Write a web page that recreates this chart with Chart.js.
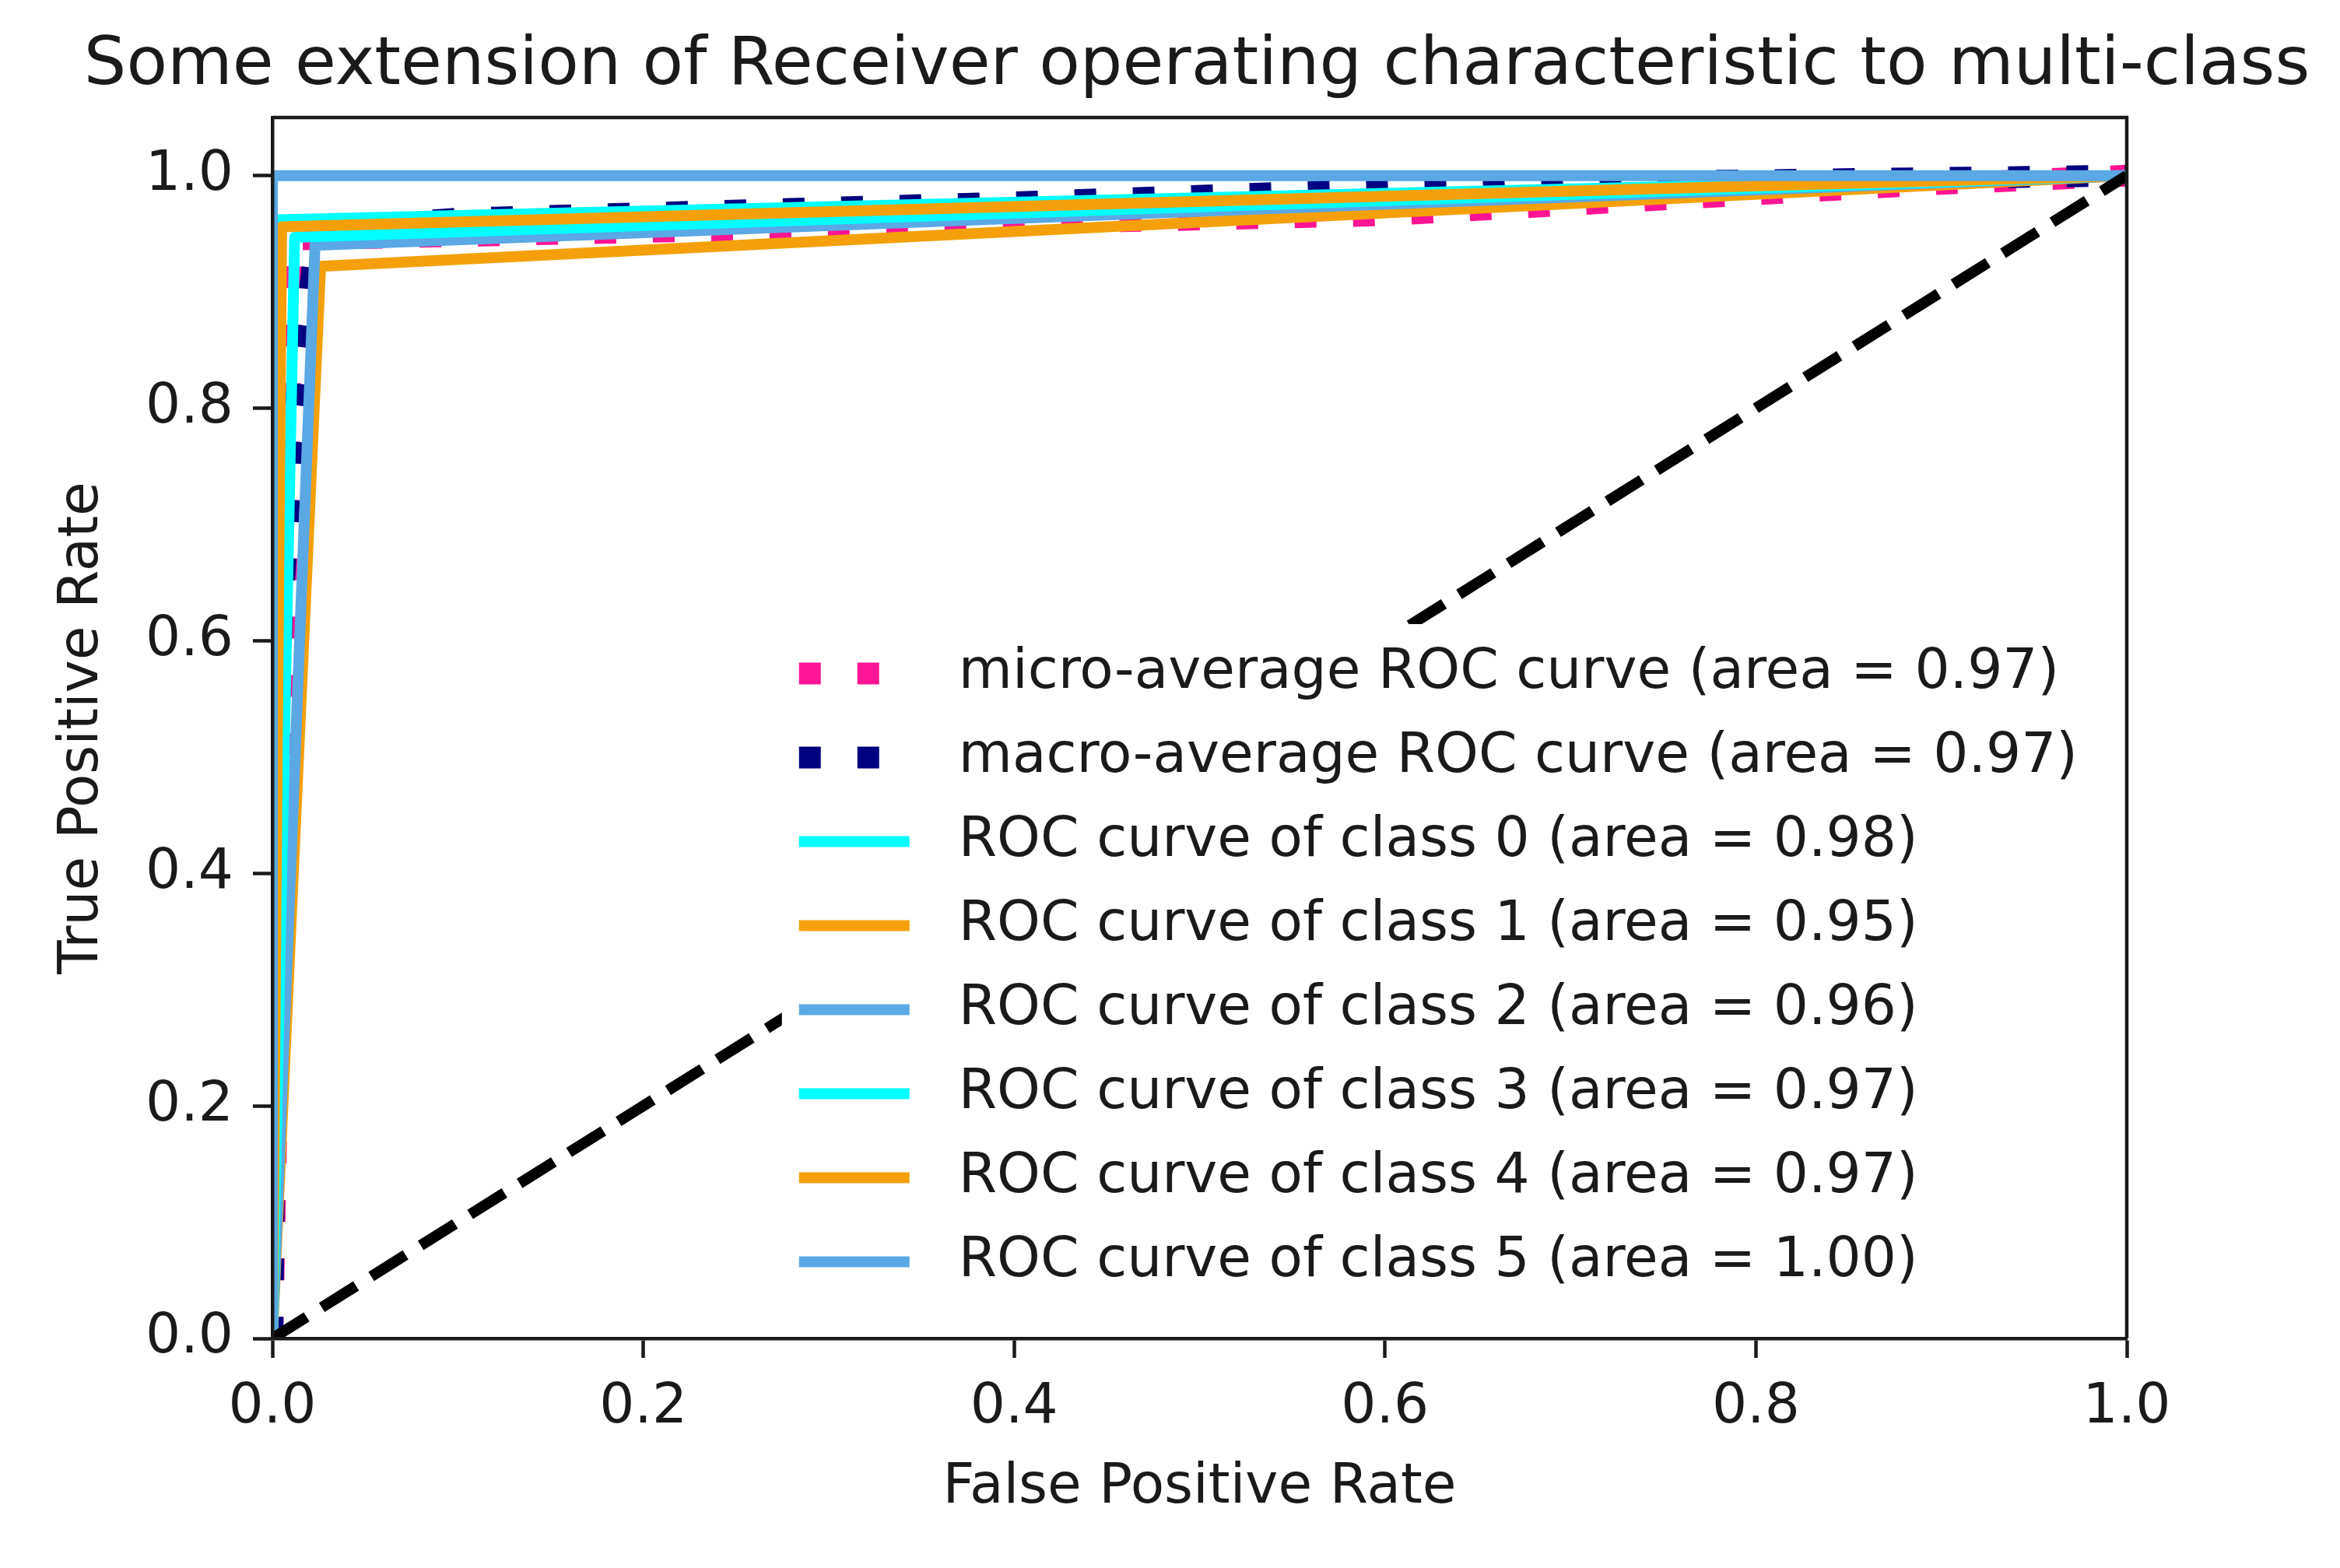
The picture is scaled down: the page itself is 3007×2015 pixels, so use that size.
<!DOCTYPE html>
<html lang="en">
<head>
<meta charset="utf-8">
<title>ROC multi-class</title>
<script src="https://cdn.jsdelivr.net/npm/chart.js@4"></script>
<style>
  html, body { margin: 0; padding: 0; background: #fff; }
  canvas { display: block; }
</style>
</head>
<body>
<canvas id="roc" width="3007" height="2015"></canvas>
<script>
// values
const tickValues = [0, 0.2, 0.4, 0.6, 0.8, 1.0];
const tickLabels = ['0.0', '0.2', '0.4', '0.6', '0.8', '1.0'];

const microFpr = [0, 0.011, 0.3, 0.6, 0.9, 1];
const microTpr = [0, 0.945, 0.955, 0.966, 0.993, 1];
const macroFpr = [0, 0.003, 0.005, 0.012, 0.023, 0.026, 0.1, 0.4, 0.7, 1];
const macroTpr = [0, 0.50, 0.616, 0.797, 0.937, 0.955, 0.963, 0.977, 0.994, 1];

const classFpr = [[0, 0.003, 1], [0, 0.026, 1], [0, 0.023, 1], [0, 0.012, 1], [0, 0.005, 1], [0, 0, 1]];
const classTpr = [[0, 0.962, 1], [0, 0.922, 1], [0, 0.940, 1], [0, 0.947, 1], [0, 0.956, 1], [0, 1, 1]];
const classArea = ['0.98', '0.95', '0.96', '0.97', '0.97', '1.00'];
const microArea = '0.97';
const macroArea = '0.97';
const chanceLine = [0, 1];

const classColors = ['#00ffff', '#f5a00a', '#5aa8e4'];

const FONT = '"DejaVu Sans", sans-serif';
const INK = '#1a1a1a';
const pts = (xs, ys) => xs.map((x, i) => ({ x: x, y: ys[i] }));

const datasets = [];
datasets.push({
  label: 'micro-average ROC curve (area = ' + microArea + ')',
  data: pts(microFpr, microTpr), borderColor: '#ff1493', borderWidth: 28,
  borderDash: [28, 47], borderCapStyle: 'butt', order: 8
});
datasets.push({
  label: 'macro-average ROC curve (area = ' + macroArea + ')',
  data: pts(macroFpr, macroTpr), borderColor: '#000080', borderWidth: 28,
  borderDash: [28, 47], borderCapStyle: 'butt', order: 7
});
classFpr.forEach((f, i) => {
  datasets.push({
    label: 'ROC curve of class ' + i + ' (area = ' + classArea[i] + ')',
    data: pts(f, classTpr[i]), borderColor: classColors[i % 3], borderWidth: 14,
    borderCapStyle: 'square', order: 6 - i
  });
});
datasets.push({
  label: '', data: pts(chanceLine, chanceLine), borderColor: '#000', borderWidth: 14,
  borderDash: [52, 23], borderCapStyle: 'butt', order: 0
});
datasets.forEach(d => {
  d.showLine = true; d.pointRadius = 0; d.fill = false; d.tension = 0;
  d.borderJoinStyle = 'round'; d.clip = 0;
});

// legend box at lower right inside the axes, and the top/right spines
const rocLegend = {
  id: 'rocLegend',
  afterDraw(chart) {
    const ctx = chart.ctx, a = chart.chartArea;
    const fs = 71, rowH = 108, pad = 28, handleLen = 142, textPad = 57, axPad = 35;
    const items = chart.data.datasets.filter(d => d.label);
    ctx.save();
    ctx.strokeStyle = INK;
    ctx.lineWidth = 4.5;
    ctx.beginPath();
    ctx.moveTo(a.left, a.top); ctx.lineTo(a.right, a.top); ctx.lineTo(a.right, a.bottom);
    ctx.stroke();

    ctx.font = fs + 'px ' + FONT;
    const textW = Math.max(...items.map(d => ctx.measureText(d.label).width));
    const w = pad * 2 + handleLen + textPad + textW;
    const h = pad * 2 + fs + rowH * (items.length - 1);
    const x0 = a.right - axPad - w, y0 = a.bottom - axPad - h;
    ctx.fillStyle = '#fff';
    ctx.fillRect(x0, y0, w, h);
    items.forEach((d, i) => {
      const y = y0 + pad + fs / 2 + i * rowH;
      ctx.beginPath();
      ctx.setLineDash(d.borderDash || []);
      ctx.lineCap = 'butt';
      ctx.lineWidth = d.borderWidth;
      ctx.strokeStyle = d.borderColor;
      ctx.moveTo(x0 + pad - 6, y); ctx.lineTo(x0 + pad - 6 + handleLen, y);
      ctx.stroke();
      ctx.setLineDash([]);
      ctx.fillStyle = INK;
      ctx.textBaseline = 'middle';
      ctx.textAlign = 'left';
      ctx.fillText(d.label, x0 + pad + handleLen + textPad, y);
    });
    ctx.restore();
  }
};

const axisCommon = {
  type: 'linear',
  grid: { display: true, drawOnChartArea: false, drawTicks: true, tickLength: 25, tickWidth: 4.5, tickColor: INK, z: 1 },
  border: { display: true, color: INK, width: 4.5, z: 1 },
  afterBuildTicks: s => { s.ticks = tickValues.map(v => ({ value: v })); },
};

new Chart(document.getElementById('roc'), {
  type: 'scatter',
  data: { datasets: datasets },
  options: {
    responsive: false,
    devicePixelRatio: 1,
    animation: false,
    events: [],
    layout: { padding: { left: 69, right: 0, top: 0, bottom: 0 } },
    plugins: {
      legend: { display: false },
      tooltip: { enabled: false },
      title: {
        display: true, fullSize: true,
        text: 'Some extension of Receiver operating characteristic to multi-class',
        color: INK, font: { family: FONT, size: 86, weight: 'normal' },
        padding: { top: 34, bottom: 13.8 }
      }
    },
    scales: {
      x: Object.assign({}, axisCommon, {
        position: 'bottom', min: 0, max: 1,
        ticks: { autoSkip: false, maxRotation: 0, padding: 22, color: INK,
                 font: { family: FONT, size: 71 }, callback: (v, i) => tickLabels[i] },
        title: { display: true, text: 'False Positive Rate', color: INK,
                 font: { family: FONT, size: 71 }, padding: { top: 0, bottom: 60 } },
        afterFit: s => { s.height = 295; }
      }),
      y: Object.assign({}, axisCommon, {
        position: 'left', min: 0, max: 1.05,
        ticks: { autoSkip: false, padding: 25, color: INK,
                 font: { family: FONT, size: 71 }, callback: (v, i) => tickLabels[i] },
        title: { display: true, text: 'True Positive Rate', color: INK,
                 font: { family: FONT, size: 71 }, padding: { top: -5, bottom: 0 } },
        afterFit: s => { s.width = 281; }
      }),
      // empty right-hand margin so the axes end where the reference ends
      yPad: {
        type: 'linear', position: 'right', display: true,
        grid: { display: false }, border: { display: false }, ticks: { display: false },
        afterFit: s => { s.width = 274; }
      }
    }
  },
  plugins: [rocLegend]
});
</script>
</body>
</html>
